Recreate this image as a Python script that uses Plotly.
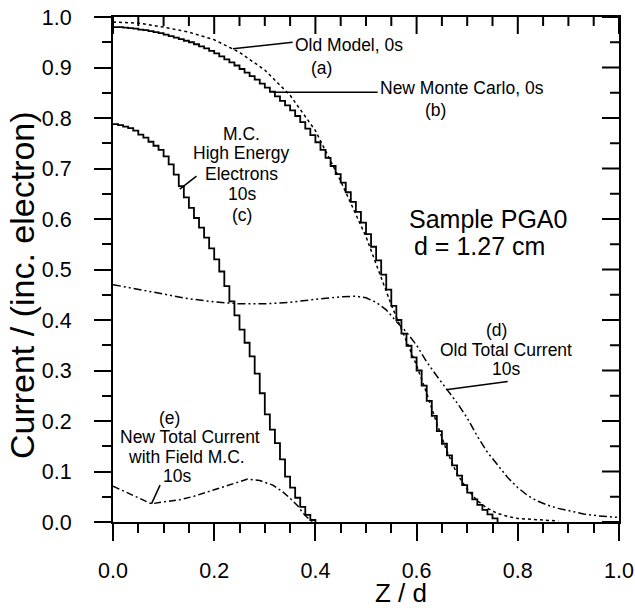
import plotly.graph_objects as go

# ---------------- data ----------------
# (b) New Monte Carlo, 0s  - staircase, bins of 0.01
z_b = [round(i * 0.01, 2) for i in range(0, 77)]
v_b = [0.980, 0.980, 0.979, 0.978, 0.977, 0.975, 0.974, 0.972, 0.970, 0.968,
       0.965, 0.962, 0.959, 0.956, 0.953, 0.950, 0.946, 0.942, 0.938, 0.933,
       0.928, 0.922, 0.916, 0.910, 0.904, 0.897, 0.890, 0.883, 0.876, 0.868,
       0.860, 0.852, 0.843, 0.834, 0.825, 0.815, 0.804, 0.792, 0.779, 0.766,
       0.752, 0.737, 0.721, 0.705, 0.689, 0.672, 0.653, 0.634, 0.614, 0.593,
       0.570, 0.545, 0.518, 0.490, 0.460, 0.428, 0.400, 0.373, 0.349, 0.326,
       0.300, 0.270, 0.240, 0.210, 0.180, 0.155, 0.132, 0.112, 0.092, 0.073,
       0.058, 0.045, 0.034, 0.024, 0.015, 0.007, 0.000]

# (c) M.C. High Energy Electrons, 10s - staircase
z_c = [round(i * 0.01, 2) for i in range(0, 41)]
v_c = [0.788, 0.786, 0.783, 0.780, 0.775, 0.767, 0.761, 0.753, 0.745, 0.737,
       0.724, 0.708, 0.688, 0.665, 0.643, 0.622, 0.602, 0.583, 0.563, 0.542,
       0.520, 0.496, 0.467, 0.437, 0.409, 0.381, 0.355, 0.328, 0.294, 0.255,
       0.213, 0.183, 0.156, 0.124, 0.090, 0.068, 0.048, 0.030, 0.014, 0.004,
       0.000]

# (a) Old Model, 0s - dotted
z_a = [0.00, 0.05, 0.10, 0.15, 0.20, 0.25, 0.30, 0.35, 0.40, 0.45, 0.50, 0.55,
       0.60, 0.62, 0.64, 0.66, 0.68, 0.70, 0.72, 0.74, 0.76, 0.78, 0.80, 0.84, 0.88]
v_a = [0.990, 0.988, 0.980, 0.970, 0.955, 0.930, 0.895, 0.845, 0.775, 0.675, 0.565, 0.430,
       0.310, 0.255, 0.195, 0.140, 0.095, 0.065, 0.042, 0.027, 0.017, 0.011, 0.007, 0.004, 0.002]

# (d) Old Total Current, 10s - dash-dot-dot
z_d = [0.00, 0.05, 0.10, 0.15, 0.20, 0.25, 0.30, 0.35, 0.40, 0.45, 0.48, 0.50, 0.52,
       0.54, 0.56, 0.58, 0.60, 0.62, 0.64, 0.66, 0.68, 0.70, 0.72, 0.74, 0.76, 0.78,
       0.80, 0.82, 0.84, 0.86, 0.88, 0.90, 0.93, 0.96, 1.00]
v_d = [0.470, 0.461, 0.451, 0.442, 0.436, 0.432, 0.432, 0.435, 0.441, 0.446, 0.447, 0.444, 0.435,
       0.420, 0.397, 0.376, 0.350, 0.317, 0.289, 0.262, 0.236, 0.206, 0.170, 0.138, 0.112, 0.088,
       0.068, 0.052, 0.041, 0.033, 0.027, 0.022, 0.016, 0.012, 0.009]

# (e) New Total Current with Field M.C., 10s - dash-dot
z_e = [0.000, 0.020, 0.040, 0.060, 0.076, 0.100, 0.132, 0.160, 0.197, 0.230, 0.266,
       0.290, 0.316, 0.335, 0.349, 0.365, 0.375, 0.385, 0.395]
v_e = [0.071, 0.062, 0.053, 0.044, 0.036, 0.040, 0.044, 0.051, 0.063, 0.073, 0.085,
       0.082, 0.073, 0.060, 0.048, 0.032, 0.018, 0.008, 0.000]

x_ticks = [0.0, 0.2, 0.4, 0.6, 0.8, 1.0]
y_ticks = [0.0, 0.1, 0.2, 0.3, 0.4, 0.5, 0.6, 0.7, 0.8, 0.9, 1.0]
x_minor = [0.05, 0.10, 0.15, 0.25, 0.30, 0.35, 0.45, 0.50, 0.55, 0.65, 0.70, 0.75, 0.85, 0.90, 0.95]
y_minor = [0.05, 0.15, 0.25, 0.35, 0.45, 0.55, 0.65, 0.75, 0.85, 0.95]

FONT = "Liberation Sans, Arial, sans-serif"
BLK = "black"
W, H = 635, 608
ML, MR, MT, MB = 113, 16, 17, 86
PW, PH = W - ML - MR, H - MT - MB
MAJ, MIN = 17, 9

fig = go.Figure()
fig.add_trace(go.Scatter(x=z_a, y=v_a, mode="lines", line=dict(color=BLK, width=1.5, dash="dot")))
fig.add_trace(go.Scatter(x=z_b, y=v_b, mode="lines", line=dict(color=BLK, width=1.8, shape="hv")))
fig.add_trace(go.Scatter(x=z_c, y=v_c, mode="lines", line=dict(color=BLK, width=1.8, shape="hv")))
fig.add_trace(go.Scatter(x=z_d, y=v_d, mode="lines",
                         line=dict(color=BLK, width=1.5, dash="8px,3px,2px,3px,2px,3px")))
fig.add_trace(go.Scatter(x=z_e, y=v_e, mode="lines",
                         line=dict(color=BLK, width=1.5, dash="7px,3px,2px,3px")))

common = dict(range=[0, 1], showgrid=False, zeroline=False, showline=True, mirror=True,
              linecolor=BLK, linewidth=2, tickcolor=BLK, tickwidth=2, ticklen=MAJ,
              ticks="outside", tickfont=dict(size=21.5), ticklabeloverflow="allow")

fig.update_layout(
    width=W, height=H,
    margin=dict(l=ML, r=MR, t=MT, b=MB, autoexpand=False),
    paper_bgcolor="white", plot_bgcolor="white",
    showlegend=False,
    font=dict(family=FONT, color=BLK),
    xaxis=dict(**common, tickvals=x_ticks, ticktext=[f"{t:.1f}" for t in x_ticks],
               ticklabelstandoff=11,
               minor=dict(tickvals=x_minor, ticklen=MIN, ticks="outside", tickcolor=BLK, tickwidth=2)),
    yaxis=dict(**common, tickvals=y_ticks, ticktext=[f"{t:.1f}" for t in y_ticks],
               ticklabelstandoff=18,
               minor=dict(tickvals=y_minor, ticklen=MIN, ticks="outside", tickcolor=BLK, tickwidth=2)),
)

# inward-pointing ticks on the top and right frame (the reference's style)
for vals, ln in [(x_ticks, MAJ), (x_minor, MIN)]:
    for t in vals:
        fig.add_shape(type="line", xref="x", yref="paper", x0=t, x1=t, y0=1, y1=1 - ln / PH,
                      line=dict(color=BLK, width=2))
for vals, ln in [(y_ticks, MAJ), (y_minor, MIN)]:
    for t in vals:
        fig.add_shape(type="line", xref="paper", yref="y", x0=1, x1=1 - ln / PW, y0=t, y1=t,
                      line=dict(color=BLK, width=2))

# axis titles
fig.add_annotation(x=0.569, y=-0.1406, xref="paper", yref="paper", text="Z / d",
                   showarrow=False, xanchor="center", yanchor="middle",
                   font=dict(size=26, family=FONT, color=BLK))
fig.add_annotation(x=-0.180, y=0.469, xref="paper", yref="paper",
                   text="Current / (inc. electron)", textangle=-90,
                   showarrow=False, xanchor="center", yanchor="middle",
                   font=dict(size=34, family=FONT, color=BLK))

# leader lines
leaders = [
    (0.237, 0.937, 0.355, 0.950),
    (0.316, 0.851, 0.523, 0.851),
    (0.132, 0.659, 0.165, 0.685),
    (0.658, 0.262, 0.780, 0.278),
    (0.076, 0.036, 0.093, 0.073),
]
for x0, y0, x1, y1 in leaders:
    fig.add_shape(type="line", x0=x0, y0=y0, x1=x1, y1=y1, xref="x", yref="y",
                  line=dict(color=BLK, width=1.5))

def txt(x, y, s, size=17.5, anchor="center"):
    fig.add_annotation(x=x, y=y, xref="x", yref="y", text=s, showarrow=False,
                       xanchor=anchor, yanchor="middle",
                       font=dict(size=size, family=FONT, color=BLK))

txt(0.355, 0.945, "Old Model, 0s", anchor="left")
txt(0.412, 0.900, "(a)")
txt(0.523, 0.859, "New Monte Carlo, 0s", anchor="left")
txt(0.638, 0.816, "(b)")
for yy, s in [(0.768, "M.C."), (0.730, "High Energy"), (0.690, "Electrons"),
              (0.650, "10s"), (0.607, "(c)")]:
    txt(0.254, yy, s)
txt(0.742, 0.600, "Sample PGA0", size=25)
txt(0.724, 0.547, "d = 1.27 cm", size=25)
txt(0.758, 0.381, "(d)")
txt(0.777, 0.341, "Old Total Current")
txt(0.776, 0.302, "10s")
txt(0.111, 0.206, "(e)")
txt(0.153, 0.168, "New Total Current")
txt(0.145, 0.128, "with Field M.C.")
txt(0.127, 0.091, "10s")

# remove the browser's default 8px body margin so the figure sits at the window origin
fig.write_html("out.html", config={"displayModeBar": False},
               post_script="document.body.style.margin='0';document.body.style.overflow='hidden';")
